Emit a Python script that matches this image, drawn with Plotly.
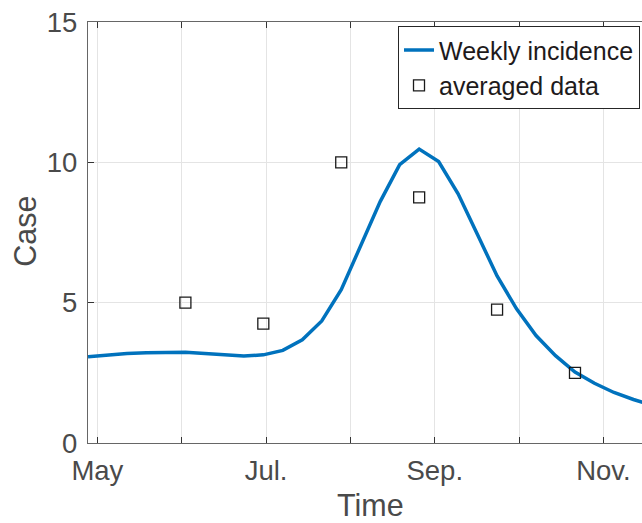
import plotly.graph_objects as go

# ---- data ----
weeks = list(range(30))
weekly_incidence = [3.07, 3.14, 3.19, 3.22, 3.23, 3.23, 3.19, 3.14, 3.10, 3.14,
                    3.30, 3.68, 4.35, 5.46, 7.00, 8.60, 9.92, 10.47, 10.03, 8.88,
                    7.42, 5.95, 4.78, 3.83, 3.11, 2.53, 2.13, 1.80, 1.55, 1.34]
avg_weeks = [5, 9, 13, 17, 21, 25]
avg_values = [5.0, 4.25, 10.0, 8.75, 4.75, 2.5]
month_labels = ["May", "", "Jul.", "", "Sep.", "", "Nov."]
month_start = 0.48
month_len = 4.33
month_ticks = [month_start + month_len * i for i in range(len(month_labels))]
y_ticks = [0, 5, 10, 15]

FONT = "Liberation Sans, Arial, Helvetica, sans-serif"
AX = "#4a4a4a"

fig = go.Figure()
fig.add_trace(go.Scatter(x=weeks, y=weekly_incidence, mode="lines",
                         name="Weekly incidence",
                         line=dict(color="#0072BD", width=3.5)))
fig.add_trace(go.Scatter(x=avg_weeks, y=avg_values, mode="markers",
                         name="averaged data",
                         marker=dict(symbol="square-open", size=11,
                                     color="#1a1a1a", line=dict(width=1.3))))

fig.update_layout(
    width=642, height=523,
    margin=dict(l=88, r=0, t=22, b=80),
    paper_bgcolor="white", plot_bgcolor="white",
    font=dict(family=FONT, color=AX),
    showlegend=True,
    legend=dict(x=0.9964, y=0.99, xanchor="right", yanchor="top",
                bgcolor="white", bordercolor="#262626", borderwidth=1,
                font=dict(size=25, color="#1e1a1b", family=FONT),
                tracegroupgap=0, itemwidth=30),
    xaxis=dict(range=[0, 28.44], tickvals=month_ticks, ticktext=month_labels,
               ticks="inside", ticklen=6, tickcolor="#333", tickwidth=1,
               showline=True, linecolor="#666", linewidth=1.3, mirror="ticks",
               showgrid=True, gridcolor="#e4e4e4", gridwidth=1.2,
               zeroline=False, tickfont=dict(size=27.5, color=AX),
               ticklabelstandoff=3),
    yaxis=dict(range=[0, 15], tickvals=y_ticks,
               ticks="inside", ticklen=6, tickcolor="#333", tickwidth=1,
               showline=True, linecolor="#666", linewidth=1.3, mirror=False,
               showgrid=True, gridcolor="#e4e4e4", gridwidth=1.2,
               zeroline=False, tickfont=dict(size=27.5, color=AX),
               ticklabelstandoff=4),
    annotations=[
        dict(text="Time", x=(370.5 - 88) / 554,
             y=1 - (506 - 22) / 421.5, yanchor="middle",
             xref="paper", yref="paper", showarrow=False,
             font=dict(size=30.5, color=AX, family=FONT)),
        dict(text="Case", x=(25 - 88) / 554, y=(443.5 - 232) / 421.5,
             xanchor="center", yanchor="middle", textangle=-90,
             xref="paper", yref="paper", showarrow=False,
             font=dict(size=30.5, color=AX, family=FONT)),
    ],
)

fig.write_html("out.html")
